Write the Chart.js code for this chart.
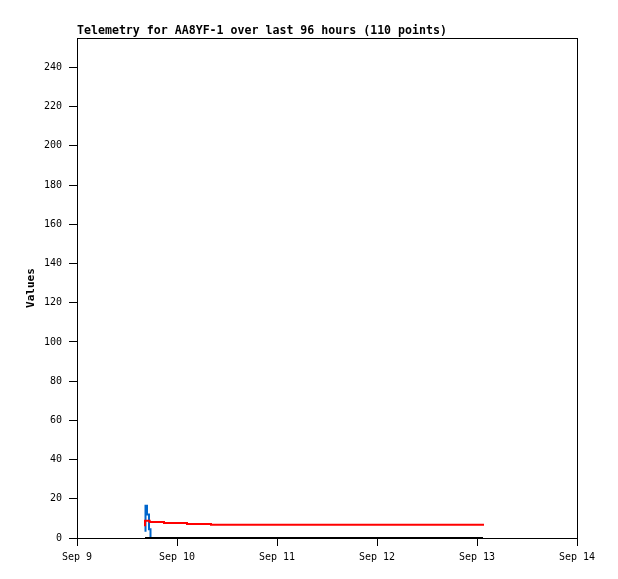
<!DOCTYPE html>
<html>
<head>
<meta charset="utf-8">
<script src="https://cdn.jsdelivr.net/npm/chart.js@4"></script>
<style>
  html, body { margin: 0; padding: 0; background: #fff; }
  #wrap { width: 618px; height: 579px; }
</style>
</head>
<body>
<div id="wrap"><canvas id="telemetry" width="618" height="579"></canvas></div>
<script>
// x values are days since Sep 9 00:00
var dayLabels = ["Sep 9", "Sep 10", "Sep 11", "Sep 12", "Sep 13", "Sep 14"];

var redTimes = [0.68, 0.727, 0.87, 1.10, 1.34, 1.57, 4.07];
var redValues = [6.0, 8.8, 8.2, 7.6, 7.1, 6.8, 6.8];

var blueTimes = [0.685, 0.70, 0.72, 0.735, 0.74];
var blueValues = [3.2, 16.5, 12.0, 4.5, 0];

var blackTimes = [0.68, 4.06];
var blackValues = [0, 0];

function toPoints(xs, ys) {
    var pts = [];
    for (var i = 0; i < xs.length; i++) {
        pts.push({ x: xs[i], y: ys[i] });
    }
    return pts;
}

// box around the plot area
var frame = {
    id: "frame",
    afterDraw: function (chart) {
        var a = chart.chartArea;
        var ctx = chart.ctx;
        ctx.save();
        ctx.strokeStyle = "#000";
        ctx.lineWidth = 1;
        ctx.strokeRect(Math.round(a.left) + 0.5, Math.round(a.top) + 0.5,
            Math.round(a.right - a.left), Math.round(a.bottom - a.top));
        ctx.restore();
    }
};

var monoFont = "'DejaVu Sans Mono', 'Liberation Mono', monospace";

new Chart("telemetry", {
    type: "line",
    data: {
        datasets: [{
            data: toPoints(blackTimes, blackValues),
            borderColor: "#000000",
            borderWidth: 2,
            pointRadius: 0,
            clip: 4
        }, {
            data: toPoints(redTimes, redValues),
            borderColor: "#ff0000",
            borderWidth: 2,
            pointRadius: 0,
            stepped: "after",
            clip: 4
        }, {
            data: toPoints(blueTimes, blueValues),
            borderColor: "#0066cc",
            borderWidth: 2,
            pointRadius: 0,
            stepped: "after",
            clip: 4
        }]
    },
    options: {
        responsive: false,
        animation: false,
        layout: { padding: { left: 0, right: 41, top: 0, bottom: 0 } },
        plugins: {
            legend: { display: false },
            tooltip: { enabled: false },
            title: {
                display: true,
                text: "Telemetry for AA8YF-1 over last 96 hours (110 points)",
                align: "start",
                fullSize: false,
                color: "#000",
                font: { family: monoFont, size: 11.6, weight: "bold", lineHeight: 1.2 },
                padding: { top: 24, bottom: 0.1 }
            }
        },
        scales: {
            x: {
                type: "linear",
                min: 0,
                max: 5,
                ticks: {
                    stepSize: 1,
                    color: "#000",
                    font: { family: monoFont, size: 10 },
                    padding: 5,
                    maxRotation: 0,
                    callback: function (v) { return dayLabels[Math.round(v)]; }
                },
                grid: { drawOnChartArea: false, tickLength: 8, color: "#000" },
                border: { color: "#000" },
                afterFit: function (s) { s.height = 41; }
            },
            y: {
                min: 0,
                max: 255,
                ticks: {
                    stepSize: 20,
                    color: "#000",
                    font: { family: monoFont, size: 10 },
                    padding: 7
                },
                afterBuildTicks: function (s) {
                    s.ticks = s.ticks.filter(function (t) { return t.value % 20 === 0; });
                },
                grid: { drawOnChartArea: false, tickLength: 8, color: "#000" },
                border: { color: "#000" },
                title: {
                    display: true,
                    text: "Values",
                    color: "#000",
                    font: { family: monoFont, size: 11, weight: "bold" },
                    padding: { top: 25, bottom: 0 }
                },
                afterFit: function (s) { s.width = 77; }
            }
        }
    },
    plugins: [frame]
});
</script>
</body>
</html>
